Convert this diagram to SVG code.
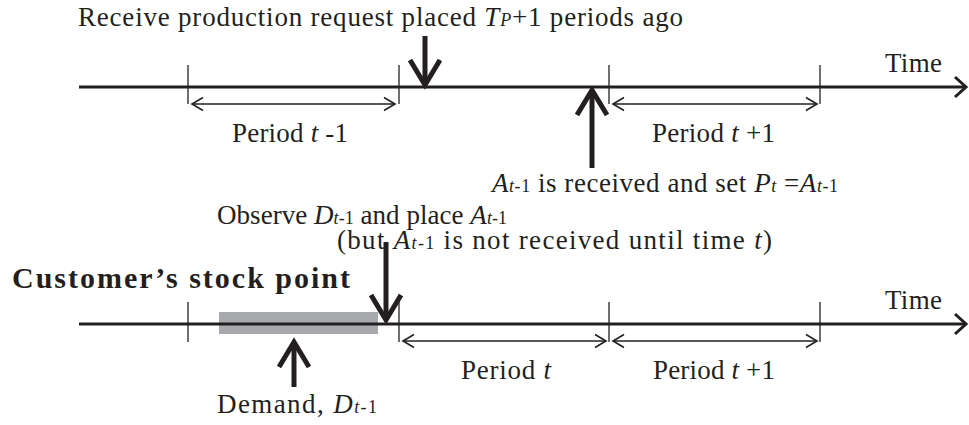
<svg xmlns="http://www.w3.org/2000/svg" width="969" height="425" viewBox="0 0 969 425">
<style>
text{font-family:"Liberation Serif","Times New Roman",serif;font-size:27px;fill:#231f20}
.b{font-weight:bold;font-size:30px}
.i{font-style:italic}
.s{font-size:18px}
.ax{stroke:#231f20;stroke-width:3.2;fill:none}
.tk{stroke:#231f20;stroke-width:1.3;fill:none}
.pa{stroke:#231f20;stroke-width:1.5;fill:none}
.bg{stroke:#231f20;stroke-width:5;fill:none}
</style>
<defs>
<marker id="axh" markerUnits="userSpaceOnUse" viewBox="-20 -15 25 30" markerWidth="25" markerHeight="30" refX="0" refY="0" orient="auto">
<path d="M-11,-10 L0,0 L-11,10" fill="none" stroke="#231f20" stroke-width="3"/>
</marker>
<marker id="sh" markerUnits="userSpaceOnUse" viewBox="-15 -10 18 20" markerWidth="18" markerHeight="20" refX="0" refY="0" orient="auto-start-reverse">
<path d="M-11,-6.5 L0,0 L-11,6.5" fill="none" stroke="#231f20" stroke-width="1.6"/>
</marker>
<marker id="bh" markerUnits="userSpaceOnUse" viewBox="-32 -20 38 40" markerWidth="38" markerHeight="40" refX="0" refY="0" orient="auto">
<path d="M-25,-15 L0,0 L-25,15" fill="none" stroke="#231f20" stroke-width="5"/>
</marker>
</defs>
<rect width="969" height="425" fill="#fff"/>

<g id="demand-bar"><rect x="219" y="312" width="159" height="22" fill="#a7a9ac"/></g>

<g id="connectors">
<line class="ax" x1="79" y1="87" x2="966" y2="87" marker-end="url(#axh)"/>
<line class="ax" x1="79" y1="324" x2="966" y2="324" marker-end="url(#axh)"/>
<g class="tk">
<line x1="188" y1="65" x2="188" y2="104"/>
<line x1="399" y1="65" x2="399" y2="104"/>
<line x1="609" y1="65" x2="609" y2="104"/>
<line x1="820" y1="65" x2="820" y2="104"/>
<line x1="188" y1="302" x2="188" y2="342"/>
<line x1="399" y1="302" x2="399" y2="342"/>
<line x1="609" y1="302" x2="609" y2="342"/>
<line x1="820" y1="302" x2="820" y2="342"/>
</g>
<g class="pa">
<line x1="192" y1="104" x2="395" y2="104" marker-start="url(#sh)" marker-end="url(#sh)"/>
<line x1="613" y1="104" x2="817" y2="104" marker-start="url(#sh)" marker-end="url(#sh)"/>
<line x1="403" y1="341" x2="606" y2="341" marker-start="url(#sh)" marker-end="url(#sh)"/>
<line x1="613" y1="341" x2="817" y2="341" marker-start="url(#sh)" marker-end="url(#sh)"/>
</g>
<g class="bg">
<line x1="425" y1="36" x2="425" y2="85" marker-end="url(#bh)"/>
<line x1="592" y1="168" x2="592" y2="90" marker-end="url(#bh)"/>
<line x1="386" y1="242" x2="386" y2="320" marker-end="url(#bh)"/>
<line x1="294" y1="387" x2="294" y2="342" marker-end="url(#bh)"/>
</g>
</g>

<g id="label-receive"><text x="78" y="26" textLength="605" lengthAdjust="spacing">Receive production request placed <tspan class="i">T</tspan><tspan class="i s">P</tspan>+1 periods ago</text></g>
<g id="label-time-top"><text x="885" y="72" textLength="57" lengthAdjust="spacing">Time</text></g>
<g id="label-period-tm1"><text x="232" y="142" textLength="116" lengthAdjust="spacing">Period <tspan class="i">t</tspan> -1</text></g>
<g id="label-period-tp1-top"><text x="652" y="142" textLength="123" lengthAdjust="spacing">Period <tspan class="i">t</tspan> +1</text></g>
<g id="label-received"><text x="492" y="192" textLength="346" lengthAdjust="spacing"><tspan class="i">A</tspan><tspan class="i s">t</tspan><tspan class="s">-1</tspan> is received and set <tspan class="i">P</tspan><tspan class="i s">t</tspan> =<tspan class="i">A</tspan><tspan class="i s">t</tspan><tspan class="s">-1</tspan></text></g>
<g id="label-observe"><text x="217" y="224" textLength="290" lengthAdjust="spacing">Observe <tspan class="i">D</tspan><tspan class="i s">t</tspan><tspan class="s">-1</tspan> and place <tspan class="i">A</tspan><tspan class="i s">t</tspan><tspan class="s">-1</tspan></text></g>
<g id="label-but"><text x="337" y="249" textLength="435" lengthAdjust="spacing">(but <tspan class="i">A</tspan><tspan class="i s">t</tspan><tspan class="s">-1</tspan> is not received until time <tspan class="i">t</tspan>)</text></g>
<g id="label-customer"><text class="b" x="12" y="288" textLength="338" lengthAdjust="spacing">Customer’s stock point</text></g>
<g id="label-time-bottom"><text x="885" y="309" textLength="57" lengthAdjust="spacing">Time</text></g>
<g id="label-period-t"><text x="461" y="379" textLength="90" lengthAdjust="spacing">Period <tspan class="i">t</tspan></text></g>
<g id="label-period-tp1-bottom"><text x="653" y="379" textLength="122" lengthAdjust="spacing">Period <tspan class="i">t</tspan> +1</text></g>
<g id="label-demand"><text x="217" y="413" textLength="160" lengthAdjust="spacing">Demand, <tspan class="i">D</tspan><tspan class="i s">t</tspan><tspan class="s">-1</tspan></text></g>
</svg>
